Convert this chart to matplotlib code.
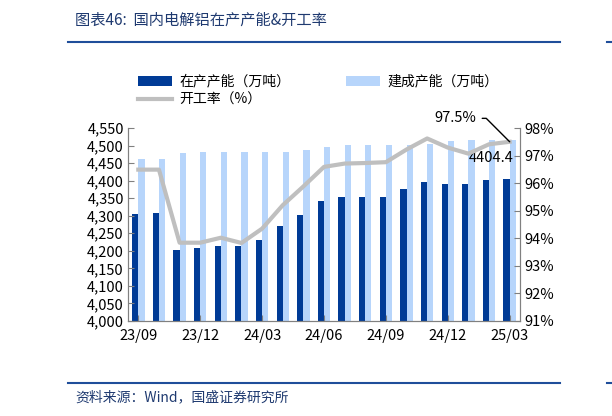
import matplotlib
matplotlib.use("Agg")
import matplotlib.pyplot as plt
import numpy as np

plt.rcParams['font.family'] = ['Noto Sans CJK SC', 'DejaVu Sans']

labels = ["23/09","23/10","23/11","23/12","24/01","24/02","24/03","24/04","24/05","24/06","24/07","24/08","24/09","24/10","24/11","24/12","25/01","25/02","25/03"]
running = [4304,4307,4201,4207,4215,4215,4231,4270,4302,4341,4352,4354,4354,4377,4397,4389,4389,4401,4404.4]
capacity = [4462,4462,4478,4483,4483,4483,4483,4483,4486,4495,4502,4502,4502,4502,4504,4512,4517,4517,4517]
rate = [96.49,96.49,93.84,93.84,94.02,93.83,94.35,95.2,95.88,96.59,96.71,96.73,96.76,97.22,97.62,97.29,97.07,97.41,97.5]

fig = plt.figure(figsize=(6.12,4.16), dpi=100)
ax = fig.add_axes([128/612, 1-321/416, 392/612, 193/416])
x = np.arange(len(labels))
w = 0.3
ax.bar(x-w/2, running, w, color='#003B96', label='在产产能（万吨）')
ax.bar(x+w/2, capacity, w, color='#B7D5FB', label='建成产能（万吨）')
ax.set_ylim(4000,4550)
ax.set_yticks(range(4000,4551,50))
ax.set_yticklabels([f"{v:,}" for v in range(4000,4551,50)])
ax.set_xlim(-0.5, len(labels)-0.5)
ax.set_xticks(x[::3])
ax.set_xticklabels(labels[::3])
ax2 = ax.twinx()
ax2.plot(x, rate, color='#BFBFBF', lw=3, label='开工率（%）')
ax2.set_ylim(91,98)
ax2.set_yticks(range(91,99))
ax2.set_yticklabels([f"{v}%" for v in range(91,99)])
for a in (ax, ax2):
    a.spines['top'].set_visible(False)
    for s in ['left','right','bottom']:
        a.spines[s].set_color('#808080')
    a.tick_params(labelsize=10.5, color='#808080', direction='in', length=4, pad=3)
ax.tick_params(axis='x', direction='in', length=4, pad=6)
ax.text(x[-1]+0.2, running[-1]+50, "4404.4", ha='right', fontsize=10.5)
ax2.annotate("97.5%", xy=(x[-1], rate[-1]), xytext=(x[-1]-1.6, 98.35), fontsize=10.5, ha='right', va='center',
             annotation_clip=False,
             arrowprops=dict(arrowstyle='-', color='black', lw=1, shrinkA=2, shrinkB=0,
                             connectionstyle='angle,angleA=0,angleB=-45'))
h1, l1 = ax.get_legend_handles_labels()
h2, l2 = ax2.get_legend_handles_labels()
fig.legend([h1[0], h2[0], h1[1]], [l1[0], l2[0], l1[1]], loc='upper left', bbox_to_anchor=(125/612, 1-62/416), ncol=2, frameon=False,
           fontsize=10, columnspacing=4, handlelength=2.5, handletextpad=0.5, labelspacing=0.3)
fig.text(75/612, 1-20/416, "图表46:  国内电解铝在产产能&开工率", fontsize=11, color='#1F3A70', style='italic', va='center')
for yy in (42, 383):
    fig.add_artist(plt.Line2D([68/612, 560/612], [1-yy/416]*2, color='#1F4E9A', lw=1.5))
    fig.add_artist(plt.Line2D([607/612, 612/612], [1-yy/416]*2, color='#1F4E9A', lw=1.5))
fig.text(75/612, 1-397/416, "资料来源：Wind，国盛证券研究所", fontsize=10, color='#1F3A70', style='italic', va='center')
fig.savefig("out.png", dpi=100)
